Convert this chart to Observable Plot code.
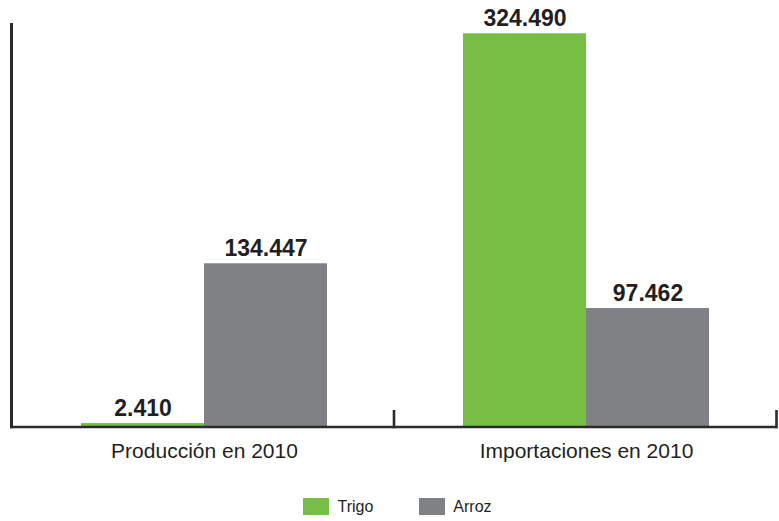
<!DOCTYPE html>
<html>
<head>
<meta charset="utf-8">
<script src="https://cdn.jsdelivr.net/npm/d3@7"></script>
<script src="https://cdn.jsdelivr.net/npm/@observablehq/plot@0.6"></script>
<style>
  html, body { margin: 0; padding: 0; background: #fff; }
  body { width: 779px; height: 521px; overflow: hidden; font-family: "Liberation Sans", Arial, sans-serif; color: #231f20; }
  #legend { display: flex; justify-content: center; align-items: center; margin-top: 28px; padding-left: 16px; font-size: 16px; height: 17px; }
  #legend .item { display: flex; align-items: center; }
  #legend .sw { width: 26px; height: 17px; margin-right: 8px; }
  #legend .item + .item { margin-left: 46px; }
</style>
</head>
<body>
<div id="chart"></div>
<div id="legend"></div>
<script>
// ---- data ----
const groups = ["Producción en 2010", "Importaciones en 2010"];
const series = ["Trigo", "Arroz"];
const trigo = [2410, 324490];
const arroz = [134447, 97462];
const colors = ["#76bf44", "#808184"];
const yMax = 333000;

const data = [];
groups.forEach((g, i) => {
  data.push({group: g, series: "Trigo", value: trigo[i]});
  data.push({group: g, series: "Arroz", value: arroz[i]});
});

const fmt = d3.formatLocale({decimal: ",", thousands: ".", grouping: [3], currency: ["", ""]}).format(",d");

const plot = Plot.plot({
  width: 779,
  height: 470,
  marginLeft: 12,
  marginRight: 2,
  marginTop: 23,
  marginBottom: 44,
  style: {fontFamily: "'Liberation Sans', Arial, sans-serif", fontSize: "21px", color: "#231f20", background: "#fff"},
  fx: {domain: groups, padding: 0, axis: "bottom", tickSize: 0, tickPadding: 17, label: null},
  x: {domain: series, paddingInner: 0, paddingOuter: 0.55, axis: null},
  y: {domain: [0, yMax], axis: null},
  color: {domain: series, range: colors},
  marks: [
    Plot.barY(data, {fx: "group", x: "series", y: "value", fill: "series"}),
    Plot.text(data, {fx: "group", x: "series", y: "value", text: d => fmt(d.value),
      lineAnchor: "bottom", dy: -8, fontSize: 23, fontWeight: "bold", fill: "#231f20"})
  ]
});

document.getElementById("chart").appendChild(plot);

// axis lines drawn from the plot's own scales
const fx = plot.scale("fx");
const ys = plot.scale("y");
const band = d3.scaleBand(fx.domain, fx.range).paddingInner(0).paddingOuter(0);
const y0 = ys.range[0];
const yTop = ys.range[1];
const xLeft = fx.range[0];
const xRight = fx.range[1];
const svg = d3.select(plot);
const g = svg.append("g").attr("stroke", "#2b2b2b").attr("stroke-width", 2.6).attr("fill", "none");
g.append("line").attr("x1", xLeft - 0.5).attr("x2", xLeft - 0.5).attr("y1", yTop).attr("y2", y0 + 2.3).attr("stroke-width", 3);
g.append("line").attr("x1", xLeft - 2).attr("x2", xRight).attr("y1", y0 + 1).attr("y2", y0 + 1);
fx.domain.forEach(k => {
  const xe = band(k) + band.bandwidth() - 0.5;
  g.append("line").attr("x1", xe).attr("x2", xe).attr("y1", y0 - 16).attr("y2", y0 + 2.3);
});

// legend
const legend = d3.select("#legend");
series.forEach((s, i) => {
  const it = legend.append("div").attr("class", "item");
  it.append("div").attr("class", "sw").style("background", colors[i]);
  it.append("span").text(s);
});
</script>
</body>
</html>
